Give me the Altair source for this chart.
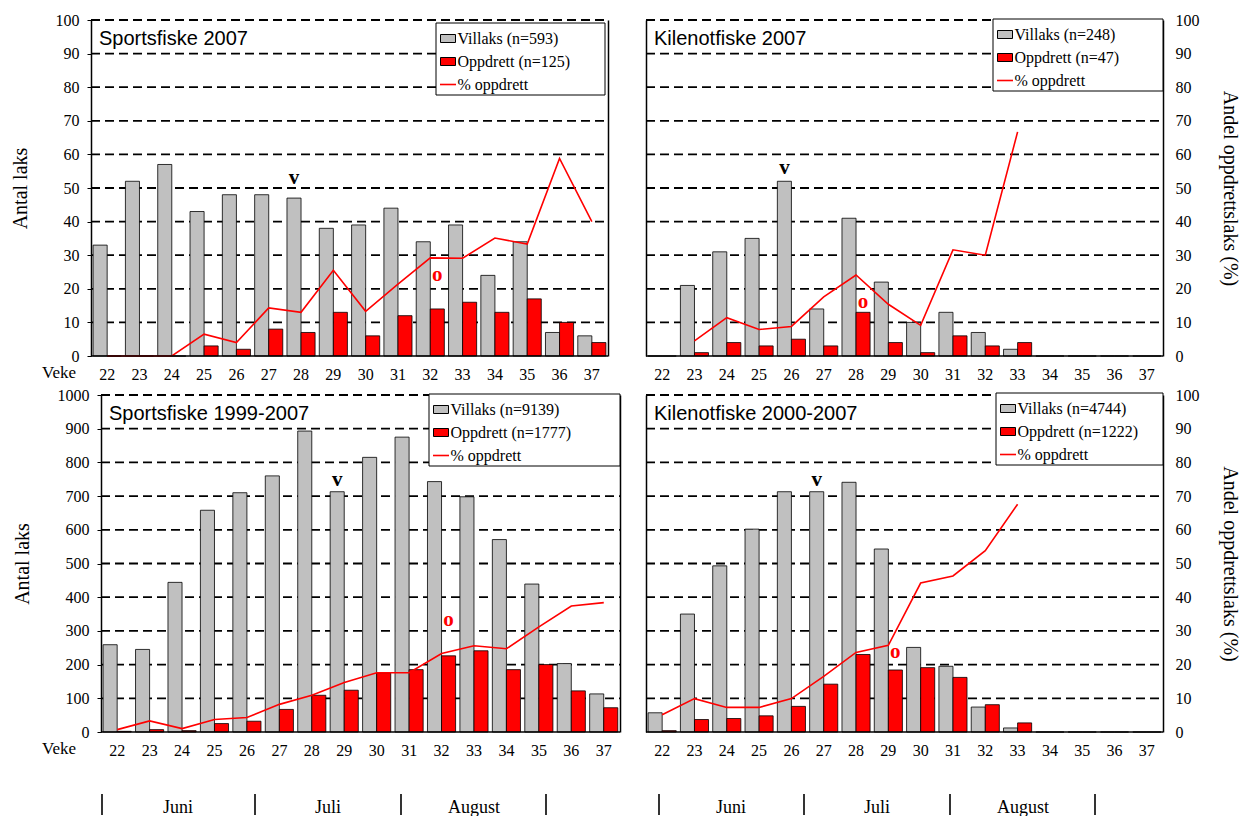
import altair as alt
import pandas as pd

# ---------------- data ----------------
weeks = [22, 23, 24, 25, 26, 27, 28, 29, 30, 31, 32, 33, 34, 35, 36, 37]
series_names = ["Villaks", "Oppdrett"]

# Sportsfiske 2007
sf07_villaks = [33, 52, 57, 43, 48, 48, 47, 38, 39, 44, 34, 39, 24, 34, 7, 6]
sf07_oppdrett = [0, 0, 0, 3, 2, 8, 7, 13, 6, 12, 14, 16, 13, 17, 10, 4]
sf07_pct = [0, 0, 0, 6.5, 4.0, 14.3, 13.0, 25.5, 13.3, 21.4, 29.2, 29.1, 35.1, 33.3, 58.8, 40.0]
sf07_legend = ["Villaks (n=593)", "Oppdrett (n=125)", "% oppdrett"]
sf07_marks = {"v": (28, 53), "o": (32, 24)}

# Kilenotfiske 2007
kn07_villaks = [0, 21, 31, 35, 52, 14, 41, 22, 10, 13, 7, 2, 0, 0, 0, 0]
kn07_oppdrett = [0, 1, 4, 3, 5, 3, 13, 4, 1, 6, 3, 4, 0, 0, 0, 0]
kn07_pct = [None, 4.5, 11.4, 7.9, 8.8, 17.6, 24.1, 15.4, 9.1, 31.6, 30.0, 66.7, None, None, None, None]
kn07_legend = ["Villaks (n=248)", "Oppdrett (n=47)", "% oppdrett"]
kn07_marks = {"v": (26, 56), "o": (28, 16)}

# Sportsfiske 1999-2007
sf99_villaks = [259, 245, 444, 658, 710, 760, 893, 713, 815, 875, 743, 698, 571, 439, 203, 113]
sf99_oppdrett = [2, 7, 4, 25, 32, 67, 109, 124, 176, 185, 226, 241, 185, 200, 122, 72]
sf99_pct = [0.7, 3.3, 1.0, 3.7, 4.3, 8.2, 10.9, 14.7, 17.6, 17.6, 23.3, 25.6, 24.7, 31.2, 37.4, 38.4]
sf99_legend = ["Villaks (n=9139)", "Oppdrett (n=1777)", "% oppdrett"]
sf99_marks = {"v": (29, 748), "o": (32, 332)}

# Kilenotfiske 2000-2007
kn00_villaks = [57, 350, 493, 602, 713, 713, 741, 543, 251, 195, 74, 12, 0, 0, 0, 0]
kn00_oppdrett = [4, 37, 40, 48, 76, 142, 230, 184, 191, 162, 81, 27, 0, 0, 0, 0]
kn00_pct = [5.1, 9.9, 7.3, 7.3, 9.9, 16.5, 23.6, 25.7, 44.2, 46.3, 53.8, 67.6, None, None, None, None]
kn00_legend = ["Villaks (n=4744)", "Oppdrett (n=1222)", "% oppdrett"]
kn00_marks = {"v": (27, 748), "o": (29, 238)}

month_labels = ["Juni", "Juli", "August"]

# ---------------- styling ----------------
SERIF = "Liberation Serif, Times New Roman, DejaVu Serif, serif"
SANS = "Liberation Sans, Arial, sans-serif"
GRAY = "#C0C0C0"
RED = "#FF0000"
DASH = [9, 5]
GRID_W = 1.8
DOMAIN = dict(domain=True, domainColor="black", domainWidth=1.5)


def one():
    return alt.Chart(pd.DataFrame({"d": [0]}))


def txt(s, x, y, size, font=SERIF, align="left", color="black", weight="normal"):
    return one().mark_text(text=s, font=font, fontSize=size, align=align, baseline="middle",
                           color=color, fontWeight=weight).encode(x=alt.value(x), y=alt.value(y))


def rect(x1, x2, y1, y2, fill, stroke="black", sw=1.0):
    return one().mark_rect(fill=fill, stroke=stroke, strokeWidth=sw).encode(
        x=alt.value(x1), x2=alt.value(x2), y=alt.value(y1), y2=alt.value(y2))


def rule(x1, x2, y1, y2, color, sw):
    return one().mark_rule(color=color, strokeWidth=sw).encode(
        x=alt.value(x1), x2=alt.value(x2), y=alt.value(y1), y2=alt.value(y2))


def panel(title, villaks, oppdrett, pct, legend_labels, marks, ymax, ystep, left_labels,
          width, height, legend_box, dx=0, veke_x=None, months=None):
    """dx: the plot area starts dx pixels to the right of the panel origin."""
    W = width + dx
    bars_df = pd.DataFrame({
        "week": weeks * 2,
        "series": [series_names[0]] * len(weeks) + [series_names[1]] * len(weeks),
        "count": villaks + oppdrett,
    })
    line_df = pd.DataFrame({"week": weeks, "pct": pct}).dropna()
    grid_df = pd.DataFrame({"g": list(range(ystep, ymax + 1, ystep))})

    xscale = alt.Scale(domain=weeks, range=[dx, W], paddingInner=0.13, paddingOuter=0.065)
    xaxis = alt.Axis(title=None, labelAngle=0, ticks=False, tickSize=0, labelFont=SERIF, labelFontSize=16,
                     labelColor="black", labelPadding=10, grid=False, domain=False)
    X = alt.X("week:O", scale=xscale, axis=xaxis)
    XO = alt.XOffset("series:N", scale=alt.Scale(domain=series_names, paddingInner=0, paddingOuter=0))
    yscale = alt.Scale(domain=[0, ymax], nice=False)

    if left_labels:
        laxis = alt.Axis(orient="left", values=list(range(0, ymax + 1, ystep)), title="Antal laks",
                         format="d", ticks=True, tickColor="black", tickSize=4, tickWidth=1,
                         labelFont=SERIF, labelFontSize=16, labelColor="black", labelPadding=8,
                         titleFont=SERIF, titleFontSize=20, titleFontWeight="normal", titleColor="black",
                         titlePadding=25, grid=False, offset=-dx, **DOMAIN)
        raxis = alt.Axis(orient="right", labels=False, ticks=False, grid=False, title=None, **DOMAIN)
    else:
        laxis = alt.Axis(orient="left", labels=False, ticks=False, grid=False, title=None, offset=-dx,
                         **DOMAIN)
        raxis = alt.Axis(orient="right", values=list(range(0, 101, 10)), title="Andel oppdrettslaks (%)",
                         format="d", ticks=False, tickSize=0, labelFont=SERIF, labelFontSize=16,
                         labelColor="black", labelPadding=12, titleFont=SERIF, titleFontSize=20,
                         titleFontWeight="normal", titleColor="black", titlePadding=20, grid=False,
                         **DOMAIN)

    # dashed grid lines (drawn behind the bars)
    grid = alt.Chart(grid_df).mark_rule(color="black", strokeWidth=GRID_W, strokeDash=DASH).encode(
        y=alt.Y("g:Q", scale=yscale, axis=None), x=alt.value(dx), x2=alt.value(W))

    bars = alt.Chart(bars_df).mark_bar(stroke="black", strokeWidth=0.8).encode(
        x=X, xOffset=XO,
        y=alt.Y("count:Q", scale=yscale, axis=laxis),
        color=alt.Color("series:N", scale=alt.Scale(domain=series_names, range=[GRAY, RED]), legend=None),
    )
    line = alt.Chart(line_df).mark_line(color=RED, strokeWidth=1.6).encode(
        x=X, y=alt.Y("pct:Q", scale=alt.Scale(domain=[0, 100], nice=False), axis=raxis))

    layers = [grid, bars, line]
    # bottom axis line
    layers.append(rule(dx, W, height, height, "black", 1.5))

    for sym, ser, col in (("v", series_names[0], "black"), ("o", series_names[1], RED)):
        wk, val = marks[sym]
        mdf = pd.DataFrame({"week": [wk], "series": [ser], "count": [val]})
        layers.append(alt.Chart(mdf).mark_text(text=sym, font=SERIF, fontSize=21, fontWeight="bold",
                                               color=col, baseline="middle").encode(
            x=X, xOffset=XO, y=alt.Y("count:Q", scale=yscale, axis=None)))

    # panel title
    layers.append(one().mark_text(text=title, font=SANS, fontSize=20, align="left", baseline="alphabetic",
                                  color="black").encode(x=alt.value(dx + 8), y=alt.value(25)))

    # legend box
    bx1, bx2, by = legend_box
    bx1 += dx
    bx2 += dx
    layers.append(rect(bx1, bx2, by, by + 72, "white"))
    rows = [by + 15.5, by + 38.5, by + 61.5]
    layers.append(rect(bx1 + 4.5, bx1 + 19.5, rows[0] - 4, rows[0] + 4, GRAY, "black", 1))
    layers.append(rect(bx1 + 4.5, bx1 + 19.5, rows[1] - 4, rows[1] + 4, RED, "black", 1))
    layers.append(rule(bx1 + 4, bx1 + 20, rows[2], rows[2], RED, 1.6))
    for lab, ry in zip(legend_labels, rows):
        layers.append(txt(lab, bx1 + 21.5, ry, 16))

    if veke_x is not None:
        layers.append(txt("Veke", dx + veke_x, height + 17, 17))

    if months is not None:
        lines_x, text_x = months
        for lx in lines_x:
            layers.append(rule(dx + lx, dx + lx, height + 62, height + 83, "black", 1.6))
        for lab, tx in zip(month_labels, text_x):
            layers.append(txt(lab, dx + tx, height + 76, 18, align="center"))

    return alt.layer(*layers).resolve_scale(y="independent").properties(width=W, height=height)


tl = panel("Sportsfiske 2007", sf07_villaks, sf07_oppdrett, sf07_pct, sf07_legend, sf07_marks,
           100, 10, True, 517, 336, (345, 514, 3), veke_x=-49)
tr = panel("Kilenotfiske 2007", kn07_villaks, kn07_oppdrett, kn07_pct, kn07_legend, kn07_marks,
           100, 10, False, 517, 336, (347, 517, -1))
bl = panel("Sportsfiske 1999-2007", sf99_villaks, sf99_oppdrett, sf99_pct, sf99_legend, sf99_marks,
           1000, 100, True, 519, 337, (328, 519, -1), dx=10, veke_x=-59,
           months=([1, 154, 300, 445], [77, 227, 373]))
br = panel("Kilenotfiske 2000-2007", kn00_villaks, kn00_oppdrett, kn00_pct, kn00_legend, kn00_marks,
           1000, 100, False, 517, 337, (350, 517, -2),
           months=([13, 158, 304, 449], [85, 231, 377]))

top = alt.hconcat(tl, tr, spacing=36)
bottom = alt.hconcat(bl, br, spacing=24)

chart = alt.vconcat(top, bottom, spacing=5).properties(
    padding={"left": 10, "top": 12, "right": 4, "bottom": 0},
    background="white",
).configure_view(strokeWidth=0)

chart.save("out.html", embed_options={"renderer": "svg", "actions": False})
